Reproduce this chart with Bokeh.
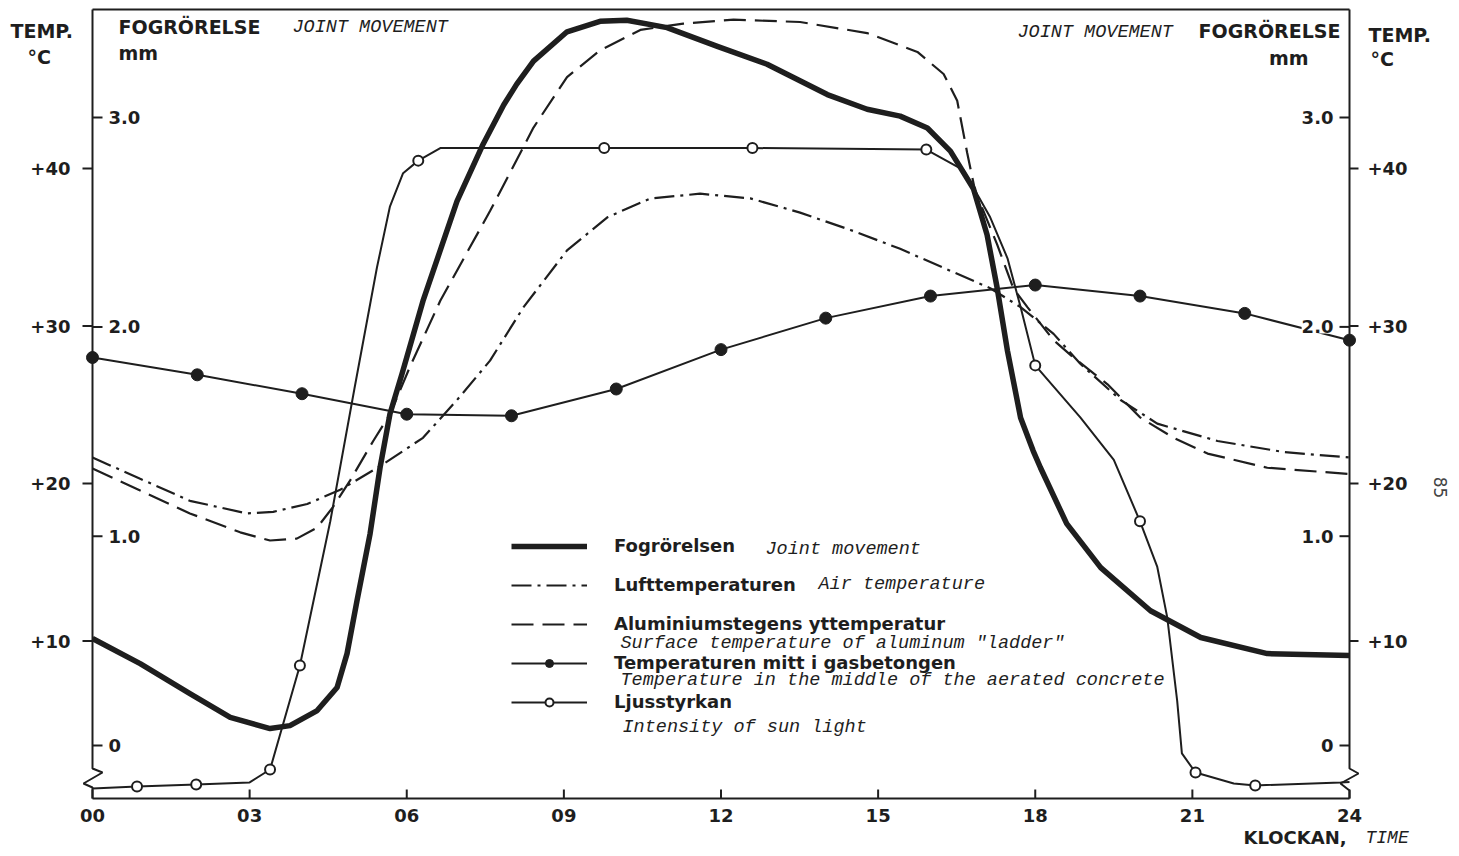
import math
from bokeh.plotting import figure
from bokeh.models import (Range1d, Label, LabelSet, ColumnDataSource, Legend, LegendItem)
from bokeh.core.properties import value
from bokeh.embed import file_html
from bokeh.resources import INLINE

# ---------------- data ----------------
# Joint movement, mm (inner scale)
JOINT_H = [0, 0.91, 1.86, 2.63, 3.39, 3.77, 4.29, 4.67, 4.86, 5.05, 5.30, 5.49, 5.68, 5.91,
           6.31, 6.96, 7.46, 7.85, 8.1, 8.42, 9.06, 9.69, 10.2, 10.97, 11.93, 12.88, 14.03,
           14.79, 15.42, 15.94, 16.38, 16.82, 17.08, 17.27, 17.47, 17.72, 17.96, 18.1, 18.6,
           19.25, 20.2, 21.16, 22.43, 24]
JOINT_MM = [0.511, 0.391, 0.248, 0.134, 0.081, 0.095, 0.167, 0.277, 0.439, 0.692, 1.012, 1.327,
            1.585, 1.776, 2.124, 2.601, 2.874, 3.06, 3.16, 3.27, 3.41, 3.46, 3.465, 3.43, 3.34,
            3.255, 3.11, 3.04, 3.007, 2.95, 2.84, 2.66, 2.44, 2.19, 1.885, 1.566, 1.408, 1.327,
            1.06, 0.85, 0.644, 0.516, 0.439, 0.43]

# Air temperature, deg C
AIR_H = [0, 0.91, 1.86, 2.95, 3.45, 4.1, 4.73, 5.49, 6.31, 6.96, 7.59, 8.23, 9.06, 9.83, 10.65,
         11.6, 12.56, 13.51, 14.47, 15.42, 16.38, 17.14, 17.72, 18.35, 18.86, 19.63, 20.33,
         21.48, 22.74, 24]
AIR_T = [21.65, 20.3, 18.9, 18.1, 18.2, 18.7, 19.6, 21.1, 22.9, 25.3, 27.8, 31.2, 34.8, 36.9,
         38.1, 38.4, 38.1, 37.2, 36.1, 34.9, 33.5, 32.4, 31.2, 29.5, 27.6, 25.3, 23.8, 22.7,
         22.0, 21.65]

# Surface temperature of aluminium "ladder", deg C
ALU_H = [0, 0.91, 1.86, 2.82, 3.39, 3.9, 4.29, 4.59, 4.92, 5.36, 5.68, 6.06, 6.64, 7.59, 8.42,
         9.06, 9.69, 10.46, 11.28, 12.24, 13.51, 14.79, 15.75, 16.25, 16.51, 16.7, 16.85, 17.27,
         17.58, 17.85, 18.35, 18.73, 19.38, 20.0, 20.64, 21.29, 22.43, 24]
ALU_T = [20.95, 19.56, 18.1, 16.9, 16.38, 16.5, 17.2, 18.5, 20.2, 22.7, 24.4, 27.4, 31.6, 37.3,
         42.6, 45.8, 47.5, 48.8, 49.2, 49.45, 49.3, 48.6, 47.4, 46.0, 44.3, 41.0, 38.6, 35.2,
         32.4, 31.2, 29.1, 28.0, 26.3, 24.2, 22.9, 21.9, 21.0, 20.6]

# Temperature in the middle of the aerated concrete, deg C
CONC_H = [0, 2, 4, 6, 8, 10, 12, 14, 16, 18, 20, 22, 24]
CONC_T = [28.0, 26.9, 25.7, 24.4, 24.3, 26.0, 28.5, 30.5, 31.9, 32.6, 31.9, 30.8, 29.1]

# Intensity of sun light (relative, drawn on the temperature scale)
LIGHT_H = [0, 0.85, 1.98, 3.0, 3.39, 3.96, 4.54, 5.0, 5.43, 5.68, 5.93, 6.22, 6.64, 9.77, 12.6,
           15.92, 16.63, 17.14, 17.47, 17.72, 18.0, 18.86, 19.5, 20.0, 20.33, 20.52, 20.71,
           20.8, 21.06, 21.79, 22.2, 23.83, 24]
LIGHT_V = [0.63, 0.76, 0.89, 1.02, 1.84, 8.44, 17.6, 26.0, 33.7, 37.6, 39.7, 40.5, 41.3, 41.3,
           41.3, 41.2, 39.9, 36.9, 34.3, 31.2, 27.5, 24.2, 21.5, 17.6, 14.7, 11.5, 6.2, 2.86,
           1.65, 0.95, 0.83, 1.02, 1.05]
LIGHT_MARK_H = [0.85, 1.98, 3.39, 3.96, 6.22, 9.77, 12.6, 15.92, 18.0, 20.0, 21.06, 22.2]
LIGHT_MARK_V = [0.76, 0.89, 1.84, 8.44, 40.5, 41.3, 41.3, 41.2, 27.5, 17.6, 1.65, 0.83]

X_TICKS = [0, 3, 6, 9, 12, 15, 18, 21, 24]
X_LABELS = ["00", "03", "06", "09", "12", "15", "18", "21", "24"]
T_TICKS = [10, 20, 30, 40]
T_LABELS = ["+10", "+20", "+30", "+40"]
MM_TICKS = [0, 1, 2, 3]
MM_LABELS = ["0", "1.0", "2.0", "3.0"]

# ---------------- layout (pixels of the page) ----------------
W, H = 1456, 852
X0_PX, PX_H = 92.0, 52.375       # hour 0 position, pixels per hour
T0_PY, PX_T = 798.0, 15.75       # 0 deg C position, pixels per degree
MM0_PY, PX_MM = 745.0, 209.3     # 0 mm position, pixels per mm
TOP_PY = 9.0                     # top border of the diagram
INK = "#1e1e1e"
SANS = "DejaVu Sans"
MONO = "Liberation Mono"


def hx(px):
    return (px - X0_PX) / PX_H


def ty(py):
    return (T0_PY - py) / PX_T


T_TOP = ty(TOP_PY)

p = figure(width=W, height=H,
           x_range=Range1d(hx(0), hx(W)), y_range=Range1d(ty(H), ty(0)),
           output_backend="svg", toolbar_location=None, title=None,
           x_axis_location=None, y_axis_location=None,
           min_border_left=0, min_border_right=0, min_border_top=0, min_border_bottom=0)
p.extra_y_ranges = {"mm": Range1d((MM0_PY - H) / PX_MM, MM0_PY / PX_MM)}
p.grid.visible = False
p.outline_line_color = None
p.background_fill_color = "white"
p.border_fill_color = "white"

# ---------------- diagram frame with axis breaks ----------------
FRAME_X = [0, 24]
p.line(FRAME_X, [T_TOP, T_TOP], line_color=INK, line_width=2)
p.line(FRAME_X, [0, 0], line_color=INK, line_width=2)
p.line([0, 0, hx(102), hx(83), 0, 0],
       [T_TOP, ty(768), ty(772), ty(783), ty(787), 0], line_color=INK, line_width=2)
p.line([24, 24, hx(1358), hx(1340), 24, 24],
       [T_TOP, ty(768), ty(773), ty(783), ty(790), 0], line_color=INK, line_width=2)

# ticks
p.ray(x=X_TICKS, y=[0] * len(X_TICKS), length=9, length_units="screen", angle=math.pi / 2,
      line_color=INK, line_width=2)
p.ray(x=[0] * len(T_TICKS), y=T_TICKS, length=10, length_units="screen", angle=math.pi,
      line_color=INK, line_width=2)
p.ray(x=[24] * len(T_TICKS), y=T_TICKS, length=9, length_units="screen", angle=0,
      line_color=INK, line_width=2)
p.ray(x=[0] * len(MM_TICKS), y=MM_TICKS, length=10, length_units="screen", angle=0,
      y_range_name="mm", line_color=INK, line_width=2)
p.ray(x=[24] * len(MM_TICKS), y=MM_TICKS, length=10, length_units="screen", angle=math.pi,
      y_range_name="mm", line_color=INK, line_width=2)

TICK_FONT = dict(text_font=value(SANS), text_font_style="bold", text_font_size="18px",
                 text_color=INK, text_baseline="middle")
p.text(x=X_TICKS, y=[ty(815)] * len(X_TICKS), text=X_LABELS, text_align="center", **TICK_FONT)
p.text(x=[hx(70)] * len(T_TICKS), y=T_TICKS, text=T_LABELS, text_align="right", **TICK_FONT)
p.text(x=[hx(1367)] * len(T_TICKS), y=T_TICKS, text=T_LABELS, text_align="left", **TICK_FONT)

src_l = ColumnDataSource(dict(x=[hx(108)] * len(MM_TICKS), y=MM_TICKS, t=MM_LABELS))
src_r = ColumnDataSource(dict(x=[hx(1333)] * len(MM_TICKS), y=MM_TICKS, t=MM_LABELS))
for src, al in ((src_l, "left"), (src_r, "right")):
    p.add_layout(LabelSet(x="x", y="y", text="t", source=src, y_range_name="mm",
                          text_align=al, text_baseline="middle", text_font=value(SANS),
                          text_font_style="bold", text_font_size="18px", text_color=INK,
                          background_fill_color="white"))

# ---------------- series ----------------
r_light = p.line(LIGHT_H, LIGHT_V, line_color=INK, line_width=2)
r_light_m = p.scatter(LIGHT_MARK_H, LIGHT_MARK_V, marker="circle", size=10, fill_color="white",
                      line_color=INK, line_width=2)
r_conc = p.line(CONC_H, CONC_T, line_color=INK, line_width=2)
r_conc_m = p.scatter(CONC_H, CONC_T, marker="circle", size=12, fill_color=INK, line_color=INK)
r_air = p.line(AIR_H, AIR_T, line_color=INK, line_width=2.2, line_dash="20 6 3 6")
r_alu = p.line(ALU_H, ALU_T, line_color=INK, line_width=2.2, line_dash="22 9")
r_joint = p.line(JOINT_H, JOINT_MM, y_range_name="mm", line_color=INK, line_width=5.5,
                 line_join="round")

legend = Legend(items=[
    LegendItem(label="Fogrörelsen", renderers=[r_joint]),
    LegendItem(label="Lufttemperaturen", renderers=[r_air]),
    LegendItem(label="Aluminiumstegens yttemperatur", renderers=[r_alu]),
    LegendItem(label="Temperaturen mitt i gasbetongen", renderers=[r_conc, r_conc_m]),
    LegendItem(label="Ljusstyrkan", renderers=[r_light, r_light_m]),
], location=(511, H - 712), glyph_width=76, glyph_height=20, label_height=20,
    label_standoff=27, spacing=18, padding=0, margin=0, border_line_color=None,
    background_fill_alpha=0, label_text_font=SANS, label_text_font_style="bold",
    label_text_font_size="18px", label_text_color=INK)
p.add_layout(legend)

# ---------------- texts ----------------


def lab(text, px, py, font=SANS, style="bold", size="19px", align="left", angle=0.0,
        color=INK):
    p.add_layout(Label(x=hx(px), y=ty(py), text=text, text_font=font, text_font_style=style,
                       text_font_size=size, text_align=align, text_baseline="middle",
                       text_color=color, angle=angle))


HEAD_IT = "18.5px"
lab("TEMP.", 10, 30)
lab("°C", 27, 56)
lab("FOGRÖRELSE", 118, 26)
lab("JOINT MOVEMENT", 292, 27, font=MONO, style="italic", size=HEAD_IT)
lab("mm", 118, 52)
lab("JOINT MOVEMENT", 1017, 32, font=MONO, style="italic", size=HEAD_IT)
lab("FOGRÖRELSE", 1340, 30, align="right")
lab("mm", 1308, 57, align="right")
lab("TEMP.", 1368, 34)
lab("°C", 1370, 58)
lab("KLOCKAN,", 1243, 837, size="18px")
lab("TIME", 1365, 837, font=MONO, style="italic", size="18px")
lab("85", 1440, 487, style="normal", size="17px", align="center", angle=-math.pi / 2,
    color="#444444")

IT = "18.5px"
lab("Joint movement", 765, 549, font=MONO, style="italic", size=IT)
lab("Air temperature", 818, 584, font=MONO, style="italic", size=IT)
lab('Surface temperature of aluminum "ladder"', 620, 643, font=MONO, style="italic", size=IT)
lab("Temperature in the middle of the aerated concrete", 620, 680, font=MONO, style="italic",
    size=IT)
lab("Intensity of sun light", 622, 727, font=MONO, style="italic", size=IT)

open("out.html", "w").write(file_html(p, INLINE))
